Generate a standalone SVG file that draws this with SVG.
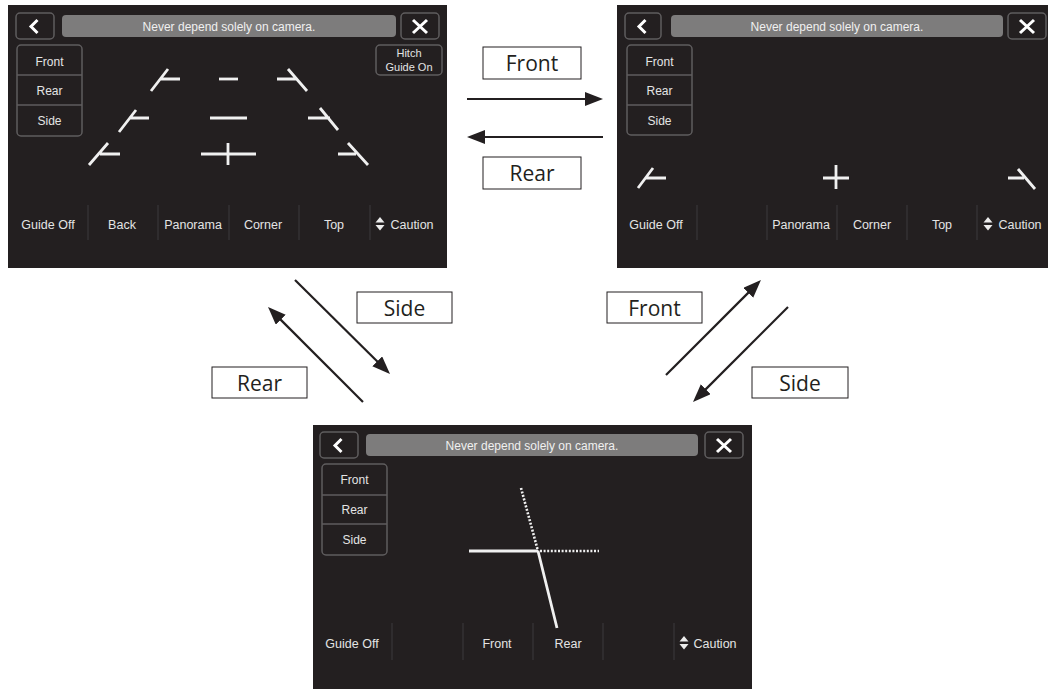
<svg xmlns="http://www.w3.org/2000/svg" width="1050" height="689" viewBox="0 0 1050 689">
<style>
.bg{fill:#ffffff}
.scr{fill:#231f20}
.btn{fill:#231f20;stroke:#5f5d5e;stroke-width:1.5}
.bar{fill:#7d7c7c}
.t{font-family:"Liberation Sans",Arial,sans-serif;fill:#e4e4e4;font-size:12.5px;text-anchor:middle}
.ts{font-size:12px}
.th{font-size:11px}
.tt{fill:#f0f0f0;font-size:12px}
.g{stroke:#f0f0f0;stroke-width:2.8;fill:none}
.dot{stroke:#f0f0f0;stroke-width:2.6;fill:none;stroke-dasharray:2 1.6}
.sep{stroke:#3d3b3c;stroke-width:1}
.ico{stroke:#ffffff;stroke-width:3;fill:none}
.tri{fill:#ececec}
.box{fill:#ffffff;stroke:#231f20;stroke-width:1}
.lbl{font-family:"Open Sans","Liberation Sans",sans-serif;font-size:21px;fill:#231f20;text-anchor:middle}
.arr{stroke:#231f20;stroke-width:2.2;fill:none;marker-end:url(#ah)}
</style>
<defs>
<marker id="ah" markerUnits="userSpaceOnUse" markerWidth="20" markerHeight="16" refX="8" refY="7" orient="auto">
<path d="M0,0 L18,7 L0,14 z" fill="#231f20"/>
</marker>
</defs>
<rect class="bg" x="0" y="0" width="1050" height="689"/>

<!-- Top-left screen -->
<g id="screen-main">
<rect class="scr" x="8" y="5" width="439" height="263"/>
<rect class="btn" x="16" y="13" width="38" height="26" rx="4"/>
<polyline class="ico" points="37.5,20 31,26.5 37.5,33" stroke-width="3.6"/>
<rect class="bar" x="62" y="15" width="334" height="22" rx="4"/>
<text class="t tt" x="229" y="31">Never depend solely on camera.</text>
<rect class="btn" x="401" y="13" width="38" height="26" rx="4"/>
<path class="ico" d="M413,20 L427,33 M427,20 L413,33" stroke-width="2.8"/>
<rect class="btn" x="17" y="45" width="65" height="91" rx="4"/>
<line class="btn" x1="17" y1="75" x2="82" y2="75"/>
<line class="btn" x1="17" y1="105" x2="82" y2="105"/>
<text class="t ts" x="49.5" y="66">Front</text>
<text class="t ts" x="49.5" y="95">Rear</text>
<text class="t ts" x="49.5" y="125">Side</text>
<rect class="btn" x="376" y="45" width="66" height="30" rx="4"/>
<text class="t th" x="409" y="57">Hitch</text>
<text class="t th" x="409" y="71">Guide On</text>
<!-- guide lines -->
<path class="g" d="M151,91 L168,69 M160,79 L180,79"/>
<path class="g" d="M219,79 L238,79"/>
<path class="g" d="M277,79 L296,79 M288,69 L307,91"/>
<path class="g" d="M119,132 L136,110 M129,118 L149,118"/>
<path class="g" d="M210,118 L247,118"/>
<path class="g" d="M308,118 L330,118 M320,108 L338,130"/>
<path class="g" d="M89,165 L108,143 M100,154 L120,154"/>
<path class="g" d="M201,154 L256,154 M228,143 L228,165"/>
<path class="g" d="M338,154 L356,154 M348,143 L368,165"/>
<!-- bottom bar -->
<path class="sep" d="M88,205 V240 M158,205 V240 M229,205 V240 M299,205 V240 M370,205 V240"/>
<text class="t" x="48" y="229">Guide Off</text>
<text class="t" x="122" y="229">Back</text>
<text class="t" x="193" y="229">Panorama</text>
<text class="t" x="263" y="229">Corner</text>
<text class="t" x="334" y="229">Top</text>
<polygon class="tri" points="375.5,222.5 380,217 384.5,222.5"/>
<polygon class="tri" points="375.5,225 380,230.5 384.5,225"/>
<text class="t" x="412" y="229">Caution</text>
</g>

<!-- Top-right screen -->
<g id="screen-front">
<rect class="scr" x="617" y="5" width="431" height="263"/>
<rect class="btn" x="625" y="13" width="36" height="26" rx="4"/>
<polyline class="ico" points="645.5,20 639,26.5 645.5,33" stroke-width="3.6"/>
<rect class="bar" x="671" y="15" width="332" height="22" rx="4"/>
<text class="t tt" x="837" y="31">Never depend solely on camera.</text>
<rect class="btn" x="1008" y="13" width="38" height="26" rx="4"/>
<path class="ico" d="M1020,20 L1034,33 M1034,20 L1020,33" stroke-width="2.8"/>
<rect class="btn" x="627" y="45" width="65" height="90" rx="4"/>
<line class="btn" x1="627" y1="75" x2="692" y2="75"/>
<line class="btn" x1="627" y1="105" x2="692" y2="105"/>
<text class="t ts" x="659.5" y="66">Front</text>
<text class="t ts" x="659.5" y="95">Rear</text>
<text class="t ts" x="659.5" y="125">Side</text>
<path class="g" d="M638,188 L653,168 M645,178 L666,178"/>
<path class="g" d="M823,178 L849,178 M836,165 L836,189"/>
<path class="g" d="M1008,178 L1024,178 M1018,169 L1035,189"/>
<path class="sep" d="M697,205 V240 M767,205 V240 M837,205 V240 M907,205 V240 M977,205 V240"/>
<text class="t" x="656" y="229">Guide Off</text>
<text class="t" x="801" y="229">Panorama</text>
<text class="t" x="872" y="229">Corner</text>
<text class="t" x="942" y="229">Top</text>
<polygon class="tri" points="983.5,222.5 988,217 992.5,222.5"/>
<polygon class="tri" points="983.5,225 988,230.5 992.5,225"/>
<text class="t" x="1020" y="229">Caution</text>
</g>

<!-- Bottom screen -->
<g id="screen-side">
<rect class="scr" x="313" y="425" width="439" height="264"/>
<rect class="btn" x="320" y="432" width="38" height="26" rx="4"/>
<polyline class="ico" points="341.5,439 335,445.5 341.5,452" stroke-width="3.6"/>
<rect class="bar" x="366" y="434" width="332" height="22" rx="4"/>
<text class="t tt" x="532" y="450">Never depend solely on camera.</text>
<rect class="btn" x="705" y="432" width="38" height="26" rx="4"/>
<path class="ico" d="M717,439 L731,452 M731,439 L717,452" stroke-width="2.8"/>
<rect class="btn" x="322" y="464" width="65" height="91" rx="4"/>
<line class="btn" x1="322" y1="495" x2="387" y2="495"/>
<line class="btn" x1="322" y1="524" x2="387" y2="524"/>
<text class="t ts" x="354.5" y="484">Front</text>
<text class="t ts" x="354.5" y="514">Rear</text>
<text class="t ts" x="354.5" y="544">Side</text>
<path class="g" d="M469,551 L538,551 M538,551 L557,628"/>
<path class="dot" d="M521,488 L538,551 M540,551 L599,551"/>
<path class="sep" d="M392,623 V660 M463,623 V660 M533,623 V660 M603,623 V660 M674,623 V660"/>
<text class="t" x="352" y="648">Guide Off</text>
<text class="t" x="497" y="648">Front</text>
<text class="t" x="568" y="648">Rear</text>
<polygon class="tri" points="679.5,641.5 684,636 688.5,641.5"/>
<polygon class="tri" points="679.5,644 684,649.5 688.5,644"/>
<text class="t" x="715" y="648">Caution</text>
</g>

<!-- Connectors -->
<g id="connectors">
<line class="arr" x1="467" y1="99" x2="593" y2="99"/>
<line class="arr" x1="603" y1="137" x2="477" y2="137"/>
<line class="arr" x1="295" y1="280" x2="382.9" y2="367"/>
<line class="arr" x1="363" y1="402" x2="275.1" y2="314.1"/>
<line class="arr" x1="666" y1="375" x2="753.9" y2="287.1"/>
<line class="arr" x1="788" y1="307" x2="700.1" y2="394.9"/>
</g>

<!-- Labels -->
<g id="label-front-top">
<rect class="box" x="483" y="47" width="98" height="32"/>
<text class="lbl" x="532" y="71">Front</text>
</g>
<g id="label-rear-top">
<rect class="box" x="483" y="157" width="98" height="32"/>
<text class="lbl" x="532" y="181">Rear</text>
</g>
<g id="label-side-left">
<rect class="box" x="357" y="292" width="95" height="31"/>
<text class="lbl" x="404.5" y="315.5">Side</text>
</g>
<g id="label-rear-left">
<rect class="box" x="212" y="367" width="95" height="31"/>
<text class="lbl" x="259.5" y="390.5">Rear</text>
</g>
<g id="label-front-right">
<rect class="box" x="607" y="292" width="95" height="31"/>
<text class="lbl" x="654.5" y="315.5">Front</text>
</g>
<g id="label-side-right">
<rect class="box" x="752" y="367" width="96" height="31"/>
<text class="lbl" x="800" y="390.5">Side</text>
</g>
</svg>
